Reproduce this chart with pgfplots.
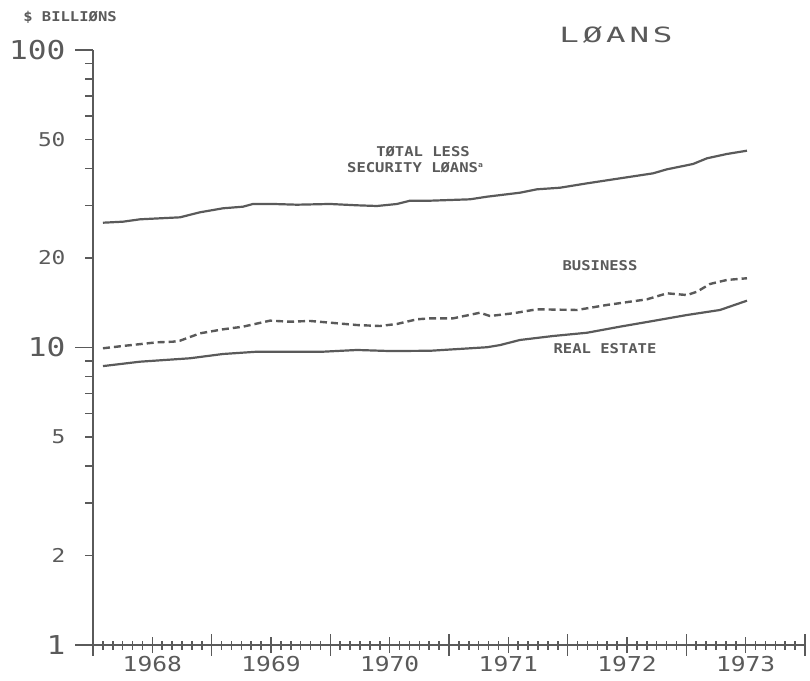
\documentclass[border=0pt]{standalone}
\usepackage{pgfplots}
\pgfplotsset{compat=1.18}
\usepackage{fontspec}
\setmainfont{DejaVu Sans Mono}[FakeStretch=1.2]
\newfontfamily\lbl{DejaVu Sans Mono}[FakeStretch=1.15]
\newfontfamily\ttl{DejaVu Sans Mono}[FakeStretch=1.55,LetterSpace=18]
\definecolor{ink}{HTML}{5A5A5A}

\pgfplotstableread{
x v
1968.084 26.27
1968.253 26.48
1968.396 26.97
1968.733 27.39
1968.902 28.48
1969.095 29.37
1969.264 29.74
1969.348 30.37
1969.517 30.37
1969.719 30.20
1969.997 30.37
1970.225 30.06
1970.393 29.90
1970.562 30.37
1970.671 31.15
1970.840 31.15
1971.177 31.49
1971.320 32.13
1971.598 33.14
1971.741 34.02
1971.935 34.44
1972.163 35.63
1972.441 37.04
1972.719 38.50
1972.837 39.72
1973.056 41.38
1973.174 43.25
1973.342 44.72
1973.511 45.87
}\total

\pgfplotstableread{
x v
1968.084 9.94
1968.253 10.12
1968.539 10.41
1968.674 10.46
1968.733 10.54
1968.902 11.16
1969.095 11.51
1969.264 11.75
1969.492 12.31
1969.660 12.21
1969.829 12.28
1969.997 12.12
1970.225 11.90
1970.418 11.81
1970.562 12.00
1970.730 12.44
1970.840 12.53
1971.034 12.53
1971.261 13.09
1971.345 12.76
1971.539 13.03
1971.741 13.44
1972.079 13.37
1972.331 13.90
1972.668 14.52
1972.837 15.21
1973.005 15.01
1973.090 15.40
1973.199 16.35
1973.342 16.87
1973.511 17.09
}\business

\pgfplotstableread{
x v
1968.084 8.66
1968.396 8.96
1968.817 9.20
1969.095 9.51
1969.382 9.68
1969.938 9.68
1970.225 9.81
1970.503 9.73
1970.840 9.75
1971.320 10.02
1971.430 10.19
1971.598 10.60
1971.876 10.93
1972.163 11.21
1972.441 11.75
1972.719 12.28
1973.005 12.86
1973.284 13.37
1973.511 14.37
}\realestate

\begin{document}
\begin{tikzpicture}
\path (0,0) rectangle (810pt,680pt);
% y axis
\begin{axis}[
  at={(93pt,35pt)}, anchor=south west, scale only axis,
  width=712pt, height=595pt,
  xmin=1968, xmax=1974, ymode=log, ymin=1, ymax=100,
  axis x line=none, axis y line=left,
  axis line style={-, ink, line width=1.6pt},
  ytick={1,10,100}, yticklabels={1,10,100},
  minor ytick={3,4,6,7,8,9,30,40,60,70,80,90},
  extra y ticks={2,5,20,50}, extra y tick labels={2,5,20,50},
  extra y tick style={major tick length=8pt,
     yticklabel style={font=\fontsize{19}{19}\selectfont, text=ink, xshift=-10pt}},
  tick align=outside, major tick length=18pt, minor tick length=8pt,
  tick style={ink, line width=1.6pt},
  yticklabel style={font=\fontsize{26}{26}\selectfont, text=ink, xshift=-6pt},
]
\end{axis}
% x axis and data
\begin{axis}[
  at={(93pt,35pt)}, anchor=south west, scale only axis,
  width=712pt, height=595pt,
  xmin=1968, xmax=1974, ymode=log, ymin=1, ymax=100,
  axis y line=none, axis x line=bottom,
  axis line style={-, ink, line width=1.6pt},
  xtick={1968,1969,1970,1971,1972,1973,1974},
  xticklabels={,,,,,,},
  minor x tick num=11,
  extra x ticks={1968.5,1969.5,1970.5,1971.5,1972.5,1973.5},
  extra x tick labels={1968,1969,1970,1971,1972,1973},
  extra x tick style={major tick length=16pt,
     xticklabel style={font=\fontsize{20.5}{20.5}\selectfont, text=ink}},
  tick align=center, major tick length=22pt, minor tick length=9pt,
  tick style={ink, line width=1.6pt},
  xticklabel style={font=\fontsize{20.5}{20.5}\selectfont, text=ink},
]
\addplot[ink, line width=2.2pt] table[x=x,y=v] {\total};
\addplot[ink, line width=2.4pt, dash pattern=on 7pt off 4pt] table[x=x,y=v] {\business};
\addplot[ink, line width=2.2pt] table[x=x,y=v] {\realestate};
\end{axis}
\begin{scope}[every node/.style={text=ink, inner sep=0pt}]
\node at (70pt,663pt) {\lbl\bfseries\fontsize{13.5}{13.5}\selectfont \$ BILLIØNS};
\node at (616pt,645pt) {\ttl\fontsize{21}{21}\selectfont LØANS};
\node at (423pt,528pt) {\lbl\bfseries\fontsize{13.5}{13.5}\selectfont TØTAL LESS};
\node at (415pt,512pt) {\lbl\bfseries\fontsize{13.5}{13.5}\selectfont SECURITY LØANS\raisebox{5pt}{\fontsize{7}{7}\selectfont a}};
\node at (600pt,414pt) {\lbl\bfseries\fontsize{13.5}{13.5}\selectfont BUSINESS};
\node at (605pt,331pt) {\lbl\bfseries\fontsize{13.5}{13.5}\selectfont REAL ESTATE};
\end{scope}
\end{tikzpicture}
\end{document}
